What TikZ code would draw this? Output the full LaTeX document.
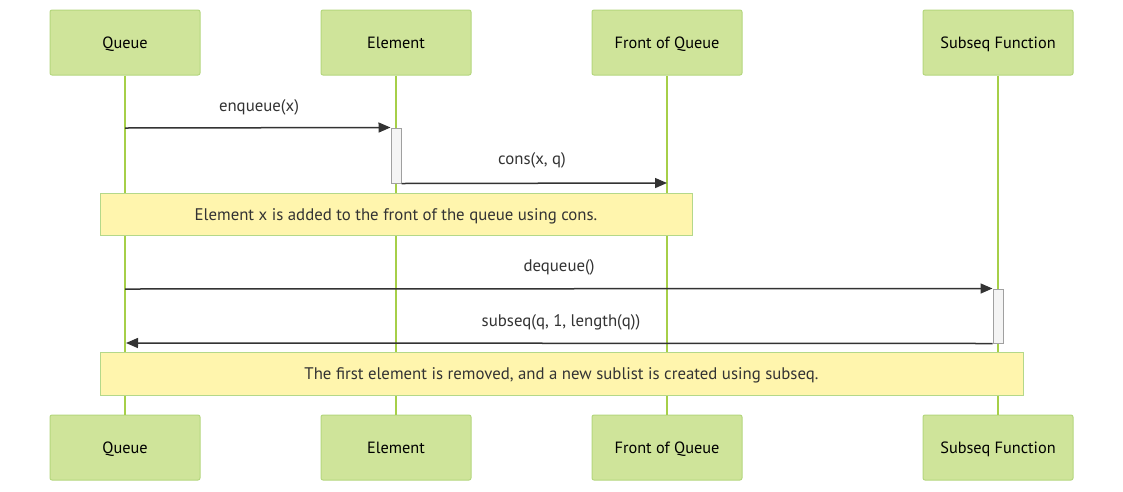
\documentclass[tikz,border=0pt]{standalone}
\usepackage{fontspec}
\setmainfont{PT Sans}
\usetikzlibrary{arrows.meta}
\definecolor{actfill}{HTML}{CFE49A}
\definecolor{actdraw}{HTML}{B5D77E}
\definecolor{life}{HTML}{A6CF48}
\definecolor{notefill}{HTML}{FFF5AD}
\definecolor{notedraw}{HTML}{B4D88A}
\definecolor{txt}{HTML}{333333}
\definecolor{actvfill}{HTML}{F4F4F4}
\definecolor{actvdraw}{HTML}{A0A0A0}
\tikzset{
  x=1pt,y=-1pt,
  actor/.style={draw=actdraw,fill=actfill,line width=1pt,rounded corners=2pt,minimum width=150pt,minimum height=65pt,inner sep=0pt,text=black,text height=12pt,text depth=0pt,font=\fontsize{16.3}{18}\selectfont},
  lifeline/.style={draw=life,line width=1.3pt},
  notebox/.style={draw=notedraw,fill=notefill,line width=1pt,inner sep=0pt,text=txt,text height=12pt,text depth=0pt,font=\fontsize{16.8}{18}\selectfont},
  msg/.style={draw=txt,line width=1.5pt,-{Triangle[length=12pt,width=10pt]}},
  lbl/.style={text=txt,font=\fontsize{16.8}{18}\selectfont,inner sep=0pt,text height=12pt,text depth=0pt},
  actv/.style={draw=actvdraw,fill=actvfill,line width=1pt,inner sep=0pt,minimum width=10pt},
}
\begin{document}
\begin{tikzpicture}
\useasboundingbox[fill=white] (0,0) rectangle (1123,491);
% actors top
\node[actor] (qt) at (125,42.5) {Queue};
\node[actor] (et) at (396,42.5) {Element};
\node[actor] (ft) at (667,42.5) {Front of Queue};
\node[actor] (st) at (998,42.5) {Subseq Function};
% actors bottom
\node[actor] (qb) at (125,447.5) {Queue};
\node[actor] (eb) at (396,447.5) {Element};
\node[actor] (fb) at (667,447.5) {Front of Queue};
\node[actor] (sb) at (998,447.5) {Subseq Function};
% lifelines
\draw[lifeline] (qt.south) -- (qb.north);
\draw[lifeline] (et.south) -- (eb.north);
\draw[lifeline] (ft.south) -- (fb.north);
\draw[lifeline] (st.south) -- (sb.north);
% coordinates on lifelines
\coordinate (q1) at (125,128);
\coordinate (f2) at (667,183);
\coordinate (q3) at (125,289);
\coordinate (q4) at (126,343);
% activations
\node[actv,minimum height=55pt] (a1) at (396,155.5) {};
\node[actv,minimum height=54pt] (a2) at (998,316) {};
% messages
\draw[msg] (q1) -- (a1.north west);
\node[lbl] (l1) at (259,105) {enqueue(x)};
\draw[msg] (a1.south east) -- (f2);
\node[lbl] (l2) at (532,158) {cons(x, q)};
% note 1
\node[notebox,minimum width=592pt,minimum height=42pt] (n1) at (396,214) {Element x is added to the front of the queue using cons.};
\draw[msg] (q3) -- (a2.north west);
\node[lbl] (l3) at (559,265) {dequeue()};
\draw[msg] (a2.south west) -- (q4);
\node[lbl] (l4) at (561,320) {subseq(q, 1, length(q))};
% note 2
\node[notebox,minimum width=923pt,minimum height=43pt] (n2) at (561.5,373.5) {The first element is removed, and a new sublist is created using subseq.};
\end{tikzpicture}
\end{document}
